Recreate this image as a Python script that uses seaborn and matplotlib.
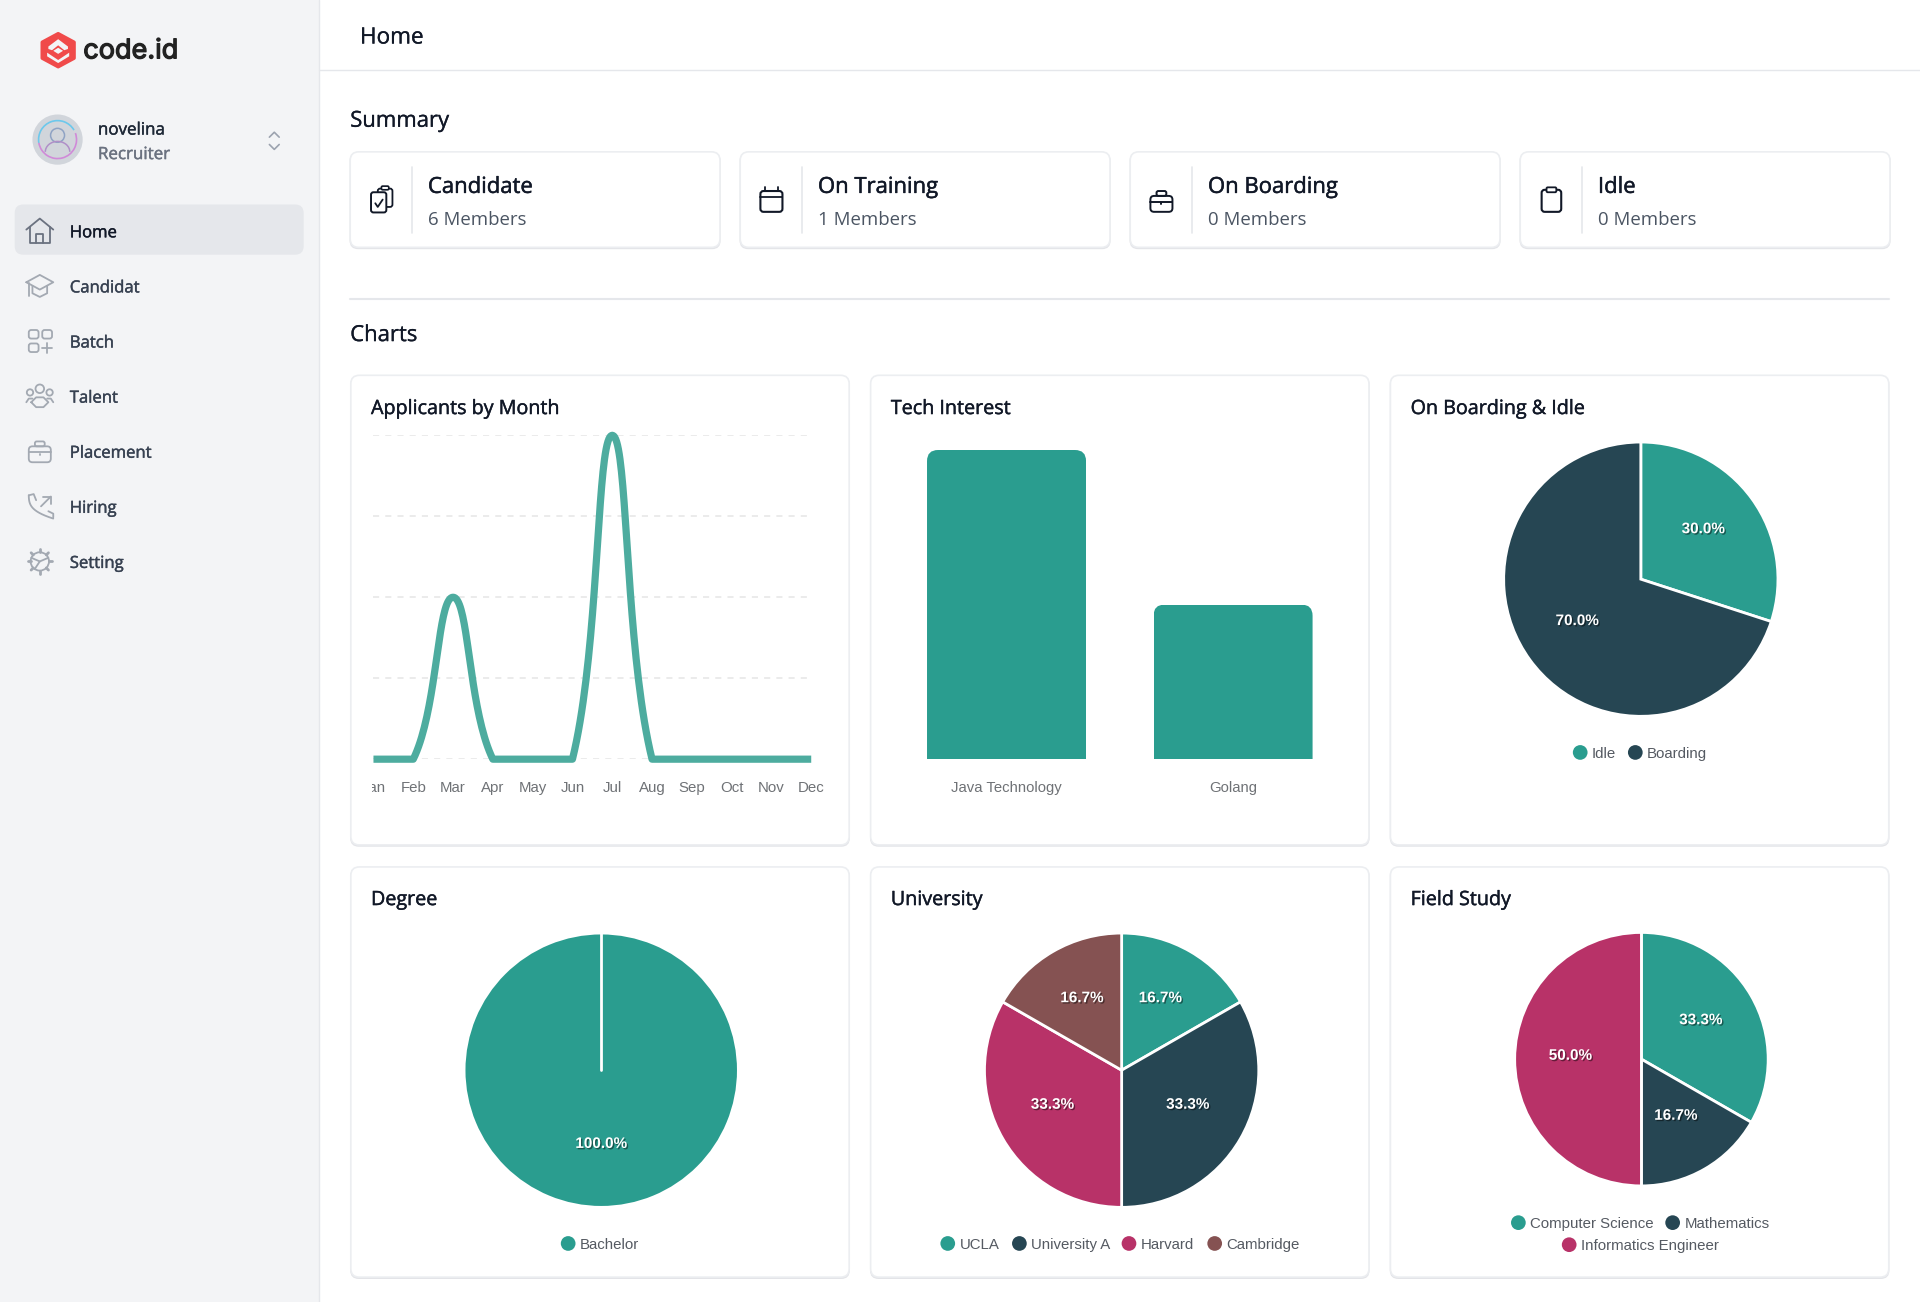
import numpy as np
import pandas as pd
import matplotlib
matplotlib.use('Agg')
import matplotlib.pyplot as plt
import matplotlib.patheffects as pe
from matplotlib.patches import Circle, FancyBboxPatch, Rectangle, Polygon, Arc
from matplotlib.transforms import IdentityTransform, TransformedBbox, Bbox
import seaborn as sns

# values
months = ['Jan', 'Feb', 'Mar', 'Apr', 'May', 'Jun', 'Jul', 'Aug', 'Sep', 'Oct', 'Nov', 'Dec']
applicants = [0, 0, 2, 0, 0, 0, 4, 0, 0, 0, 0, 0]

tech_names = ['Java Technology', 'Golang']
tech_counts = [4, 2]

boarding_names = ['Idle', 'Boarding']
boarding_values = [30, 70]
degree_names = ['Bachelor']
degree_values = [100]
university_names = ['UCLA', 'University A', 'Harvard', 'Cambridge']
university_values = [16.7, 33.3, 33.3, 16.7]
field_names = ['Computer Science', 'Mathematics', 'Informatics Engineer']
field_values = [33.3, 16.7, 50.0]

summary_titles = ['Candidate', 'On Training', 'On Boarding', 'Idle']
summary_members = ['6 Members', '1 Members', '0 Members', '0 Members']
nav_items = ['Home', 'Candidat', 'Batch', 'Talent', 'Placement', 'Hiring', 'Setting']

TEAL = '#2a9d8f'
DARK = '#264653'
PINK = '#b83268'
BROWN = '#855252'
PIE_COLORS = [TEAL, DARK, PINK, BROWN]
BORDER = '#e5e7eb'
ICON = '#a3a9b2'
SIDE = '#f3f4f6'

# layout numbers are in a 1568 wide screen, scaled up to 1920 px
W, H = 1568.0, 1302 / (1920 / 1568)
UI = ['Open Sans', 'DejaVu Sans']
CHART = ['Liberation Sans', 'DejaVu Sans']

sns.set_theme(style='white')
plt.rcParams['font.family'] = UI
fig = plt.figure(figsize=(19.2, 13.02), dpi=100, facecolor='white')
bg = fig.add_axes([0, 0, 1, 1])
bg.set_xlim(0, W)
bg.set_ylim(H, 0)
bg.axis('off')


def axes_at(left, top, right, bottom):
    return fig.add_axes([left / W, 1 - bottom / H, (right - left) / W, (bottom - top) / H])


def label(x, y, s, size, color='#111827', heavy=0.0, ha='left', family=UI):
    t = bg.text(x, y, s, fontsize=size, color=color, ha=ha, va='center_baseline', family=family)
    if heavy:
        # the dashboard font is a bit heavier than the installed regular
        t.set_path_effects([pe.withStroke(linewidth=heavy, foreground=color)])
    return t


def box(x0, y0, x1, y1, radius, face='white', edge='none', lw=1.0, ax=None):
    p = FancyBboxPatch((x0, y0), x1 - x0, y1 - y0, boxstyle=f'round,pad=0,rounding_size={radius}',
                       fc=face, ec=edge, lw=lw)
    (ax or bg).add_patch(p)
    return p


def card(x0, y0, x1, y1):
    box(x0 - 0.5, y0 + 0.5, x1 + 0.5, y1 + 1.5, 7, face='#e3e4e8')
    box(x0, y0, x1, y1, 7, edge='#eceef1', lw=1.2)


def stroke(xs, ys, color=ICON, lw=1.3):
    bg.plot(xs, ys, color=color, lw=lw, solid_capstyle='round', solid_joinstyle='round')


def ring(x, y, r, color=ICON, lw=1.3, face='none'):
    bg.add_patch(Circle((x, y), r, fc=face, ec=color, lw=lw))


def draw_house(x, y):
    stroke([x - 8, x - 8, x + 8, x + 8], [y - 3, y + 10, y + 10, y - 3], color='#6b7280')
    stroke([x - 3, x - 3, x + 3, x + 3], [y + 10, y + 3, y + 3, y + 10], color='#6b7280')
    stroke([x - 11, x, x + 11], [y - 1, y - 10, y - 1], color='#6b7280')


def draw_cap(x, y):
    stroke([x - 11, x, x + 11, x, x - 11], [y - 3, y - 9, y - 3, y + 3, y - 3])
    stroke([x - 6, x - 6, x, x + 6, x + 6], [y, y + 6, y + 9, y + 6, y])
    stroke([x - 9, x - 9], [y - 2, y + 8])


def draw_batch(x, y):
    box(x - 9, y - 9, x - 1, y - 2, 2, face='none', edge=ICON, lw=1.3)
    box(x + 2, y - 9, x + 10, y - 2, 2, face='none', edge=ICON, lw=1.3)
    box(x - 9, y + 2, x - 1, y + 9, 2, face='none', edge=ICON, lw=1.3)
    stroke([x + 6, x + 6], [y + 2, y + 10])
    stroke([x + 2, x + 10], [y + 6, y + 6])


def draw_talent(x, y):
    ring(x, y - 6, 3.5)
    ring(x - 8, y - 3, 2.6)
    ring(x + 8, y - 3, 2.6)
    stroke([x - 7, x - 3, x + 3, x + 7, x + 3, x - 3, x - 7], [y + 5, y + 1, y + 1, y + 5, y + 9, y + 9, y + 5])
    stroke([x - 11, x - 9, x - 6], [y + 5, y + 2, y + 2])
    stroke([x + 11, x + 9, x + 6], [y + 5, y + 2, y + 2])


def draw_case(x, y, color=ICON, lw=1.3):
    box(x - 9, y - 4, x + 9, y + 9, 3, face='none', edge=color, lw=lw)
    box(x - 4, y - 8, x + 4, y - 4, 1.5, face='none', edge=color, lw=lw)
    stroke([x - 9, x + 9], [y + 1, y + 1], color=color, lw=lw)
    stroke([x, x], [y + 2, y + 3], color=color, lw=lw)


def draw_phone(x, y):
    t = np.linspace(0, 1, 20)
    stroke(x - 9 + 4 * t ** 2 + 16 * t ** 4, y - 9 + 17 * t + 2 * t ** 3)
    stroke([x - 9, x - 5, x - 3], [y - 9, y - 10, y - 5])
    stroke([x + 11, x + 11, x + 7], [y + 9, y + 6, y + 4])
    stroke([x + 1, x + 9], [y, y - 8])
    stroke([x + 3, x + 9, x + 9], [y - 8, y - 8, y - 2])


def draw_gear(x, y):
    ring(x, y, 7.5)
    for a in np.arange(0, 360, 45):
        c, s = np.cos(np.radians(a)), np.sin(np.radians(a))
        stroke([x + 7.5 * c, x + 10 * c], [y + 7.5 * s, y + 10 * s], lw=2)
    stroke([x - 7, x, x + 7], [y - 3, y, y - 3])
    stroke([x, x - 4], [y, y + 6])


def draw_clipboards(x, y):
    box(x - 3, y - 9, x + 9, y + 6, 2, face='white', edge='#111827', lw=1.3)
    box(x - 0, y - 11, x + 6, y - 8, 1, face='white', edge='#111827', lw=1.2)
    box(x - 8.5, y - 6, x + 4, y + 10.5, 2, face='white', edge='#111827', lw=1.4)
    stroke([x - 5, x - 3, x + 1], [y + 3, y + 6, y], color='#111827', lw=1.3)


def draw_calendar(x, y):
    box(x - 9, y - 7, x + 9, y + 10, 2.5, face='none', edge='#111827', lw=1.5)
    stroke([x - 9, x + 9], [y - 2, y - 2], color='#111827', lw=1.3)
    stroke([x - 5, x - 5], [y - 10, y - 7], color='#111827', lw=1.3)
    stroke([x + 5, x + 5], [y - 10, y - 7], color='#111827', lw=1.3)


def draw_clipboard(x, y):
    box(x - 8, y - 8, x + 8, y + 10, 2.5, face='none', edge='#111827', lw=1.5)
    box(x - 4, y - 10, x + 4, y - 6, 1, face='white', edge='#111827', lw=1.3)


def draw_logo(x, y):
    red = '#f04a4a'
    bg.add_patch(Polygon([(x, y - 13.5), (x + 13, y - 6.5), (x + 13, y + 6.5), (x, y + 13.5), (x - 13, y + 6.5), (x - 13, y - 6.5)],
                         closed=True, fc=red, ec=red, lw=2.5, joinstyle='round'))
    # light cut-outs: band above, band below, diamond in the middle
    bg.add_patch(Polygon([(x - 8, y - 3), (x, y - 9), (x + 8, y - 3), (x + 8, y - 1), (x + 5, y), (x, y - 4), (x - 5, y), (x - 8, y - 1)],
                         closed=True, fc=SIDE, ec='none'))
    bg.add_patch(Polygon([(x, y - 2), (x + 4, y + 0.5), (x, y + 3), (x - 4, y + 0.5)], closed=True, fc=SIDE, ec='none'))
    bg.add_patch(Polygon([(x - 9, y + 2), (x, y + 8), (x + 9, y + 2), (x + 9, y + 5), (x, y + 10.5), (x - 9, y + 5)],
                         closed=True, fc=SIDE, ec='none'))


def smooth_curve(values, step, unit, tension=0.4):
    # bezier through the monthly values, control points capped at the axis floor
    px = np.arange(len(values)) * step
    py = np.asarray(values, dtype=float) * unit
    xs, ys = [], []
    for i in range(len(values) - 1):
        p0, p3 = np.array([px[i], py[i]]), np.array([px[i + 1], py[i + 1]])
        c1, c2 = p0.copy(), p3.copy()
        if i > 0:
            prev = np.array([px[i - 1], py[i - 1]])
            d0, d1 = np.hypot(*(p0 - prev)), np.hypot(*(p3 - p0))
            c1 = p0 + tension * d1 / (d0 + d1) * (p3 - prev)
        if i < len(values) - 2:
            nxt = np.array([px[i + 2], py[i + 2]])
            d0, d1 = np.hypot(*(p3 - p0)), np.hypot(*(nxt - p3))
            c2 = p3 - tension * d0 / (d0 + d1) * (nxt - p0)
        c1[1], c2[1] = max(c1[1], 0), max(c2[1], 0)
        for t in np.linspace(0, 1, 40):
            q = (1 - t) ** 3 * p0 + 3 * (1 - t) ** 2 * t * c1 + 3 * (1 - t) * t ** 2 * c2 + t ** 3 * p3
            xs.append(q[0] / step)
            ys.append(q[1] / unit)
    return xs, ys


def draw_pie(cx, cy, r, values, names, text_at, legend_rows):
    half = r * 1.04
    ax = axes_at(cx - half, cy - half, cx + half, cy + half)
    _, _, auto = ax.pie(values, colors=PIE_COLORS[:len(values)], startangle=90, counterclock=False,
                        autopct='%.1f%%', wedgeprops={'edgecolor': 'white', 'linewidth': 2.0},
                        textprops={'color': 'white', 'fontsize': 11, 'fontweight': 'bold', 'family': CHART})
    ax.set_xlim(-1.04, 1.04)
    ax.set_ylim(-1.04, 1.04)
    if len(values) == 1:
        # a lone slice still shows its seam
        ax.plot([0, 0], [0, 1], color='white', lw=2.0)
    for t, (tx, ty) in zip(auto, text_at):
        t.set_position(((tx - cx) / r, (cy - ty - 1.2) / r))
        t.set_path_effects([pe.withSimplePatchShadow(offset=(1, -1), shadow_rgbFace='black', alpha=0.45)])
    for name, color_i, dot_x, y in legend_rows:
        bg.add_patch(Circle((dot_x, y), 6, fc=PIE_COLORS[color_i], ec='none'))
        label(dot_x + 9.5, y, name, 10.8, color='#555a62', family=CHART)
    return ax


# sidebar
bg.add_patch(Rectangle((0, 0), 260.5, H, fc=SIDE, ec='none'))
stroke([260.5, 260.5], [0, H], color=BORDER, lw=1)
stroke([260.5, W], [57.5, 57.5], color=BORDER, lw=1)
draw_logo(47.5, 41)
label(68, 39.5, 'code.id', 19.5, color='#222222', heavy=0.9, family=['Inter', 'DejaVu Sans'])
bg.add_patch(Circle((47, 114), 20.5, fc='#d1d5db', ec='none'))
bg.add_patch(Arc((47, 114), 31, 31, theta1=170, theta2=330, ec='#6cc8ec', lw=1.2))
bg.add_patch(Arc((47, 114), 31, 31, theta1=340, theta2=170, ec='#d08ad8', lw=1.2))
ring(47, 110.5, 5.7, color='#8fa3c4', lw=1.1)
bg.add_patch(Arc((47, 124), 20, 17, theta1=180, theta2=360, ec='#b090c8', lw=1.1))
label(80, 105, 'novelina', 12.2, color='#1f2937', heavy=0.3)
label(80, 125, 'Recruiter', 12.2, color='#6b7280', heavy=0.3)
stroke([220, 224, 228], [112, 108, 112], color='#9ca3af', lw=1.2)
stroke([220, 224, 228], [118, 122, 118], color='#9ca3af', lw=1.2)

box(12, 167, 248, 208, 7, face='#e5e7eb')
nav_icons = [draw_house, draw_cap, draw_batch, draw_talent, draw_case, draw_phone, draw_gear]
for i, (name, draw) in enumerate(zip(nav_items, nav_icons)):
    y = 188.5 + i * 45
    draw(32.5, y)
    label(57, y + 0.4, name, 12, color='#111827' if i == 0 else '#374151', heavy=0.3)

# header and summary
label(294, 29, 'Home', 16.2, heavy=0.2)
label(286, 97, 'Summary', 15.9, heavy=0.2)
summary_icons = [draw_clipboards, draw_calendar, draw_case, draw_clipboard]
for i, x0 in enumerate([286, 604.5, 923, 1241.5]):
    card(x0, 124, x0 + 302, 202)
    stroke([x0 + 50.5, x0 + 50.5], [136, 190], color=BORDER, lw=1.2)
    if i == 2:
        draw_case(x0 + 25.5, 164, color='#111827', lw=1.4)
    else:
        summary_icons[i](x0 + 25.5, 163)
    label(x0 + 63.5, 151, summary_titles[i], 15.9, color='#111827', heavy=0.35)
    label(x0 + 63.5, 178, summary_members[i], 13.4, color='#4b5563')
stroke([286, 1543], [244, 244], color=BORDER, lw=1.5)
label(286, 272, 'Charts', 15.9, heavy=0.2)

# chart cards
titles = ['Applicants by Month', 'Tech Interest', 'On Boarding & Idle', 'Degree', 'University', 'Field Study']
columns = [(286.5, 693.5), (711, 1118), (1135.5, 1542.5)]
for i, title in enumerate(titles):
    x0, x1 = columns[i % 3]
    y0, y1 = (306.5, 690) if i < 3 else (708, 1043)
    card(x0, y0, x1, y1)
    label(x0 + 16.5, y0 + 25.5 if i < 3 else y0 + 25, title, 14.2, color='#111827', heavy=0.3)

# line chart
ax = axes_at(305, 355.5, 662.5, 620)
xs, ys = smooth_curve(applicants, 39.8, 66)
curve = pd.DataFrame({'month': xs, 'applicants': ys})
sns.lineplot(data=curve, x='month', y='applicants', color='#4dac9f', linewidth=5.2, sort=False,
             solid_capstyle='butt', ax=ax, clip_on=False, zorder=3)
ax.set_xlim(0, 11)
ax.set_ylim(0, 4)
ax.set_yticks(range(5))
ax.set_yticklabels([])
ax.set_xticks(range(12))
ax.set_xticklabels(months, fontsize=10.8, color='#6f7276', family=CHART)
ax.tick_params(axis='both', length=0)
ax.tick_params(axis='x', pad=15.5)
ax.set_xlabel('')
ax.set_ylabel('')
sns.despine(ax=ax, left=True, bottom=True)
ax.grid(axis='y', color='#e6e6e6', linestyle=(0, (4, 4)), linewidth=1.1)
ax.grid(axis='x', visible=False)
ax.patch.set_visible(False)
# the first month label is cut by the chart edge in the dashboard
jan_clip = TransformedBbox(Bbox([[303.5, 0], [W, H]]), bg.transData)
ax.get_xticklabels()[0].set_clip_box(jan_clip)
ax.get_xticklabels()[0].set_clip_on(True)

# bar chart
ax = axes_at(729.5, 367.5, 1099.5, 620)
sns.barplot(x=tech_names, y=tech_counts, color=TEAL, saturation=1, width=0.702, ax=ax)
ax.set_ylim(0, 4)
ax.set_xlim(-0.5, 1.5)
ax.set_yticks([])
ax.tick_params(axis='x', length=0, pad=15.5, labelsize=10.7, labelcolor='#6f7276')
for t in ax.get_xticklabels():
    t.set_family(CHART)
ax.set_xlabel('')
ax.set_ylabel('')
ax.patch.set_visible(False)
sns.despine(ax=ax, left=True, bottom=True)
for bar in list(ax.patches):
    e = bar.get_window_extent()
    # rounded top corners only, the box runs on below the axis and is cut there
    rounded = FancyBboxPatch((e.x0, e.y0 - 30), e.width, e.height + 30, boxstyle='round,pad=0,rounding_size=11',
                             fc=TEAL, ec='none', transform=IdentityTransform())
    ax.add_patch(rounded)
    rounded.set_clip_box(e)
    bar.set_visible(False)

# pies
draw_pie(1340, 473, 112, boarding_values, boarding_names, [(1391, 431), (1288, 506)],
         [('Idle', 0, 1290.5, 614.5), ('Boarding', 1, 1335.5, 614.5)])
draw_pie(491, 874, 112, degree_values, degree_names, [(491, 933)], [('Bachelor', 0, 464, 1015.5)])
draw_pie(916, 874, 112, university_values, university_names,
         [(947.5, 814), (970, 901), (859.5, 901), (883.5, 814)],
         [('UCLA', 0, 774, 1015.5), ('University A', 1, 832.5, 1015.5), ('Harvard', 2, 922, 1015.5),
          ('Cambridge', 3, 992, 1015.5)])
draw_pie(1340.5, 865, 103.5, field_values, field_names, [(1389, 832), (1368.5, 910), (1282.5, 861)],
         [('Computer Science', 0, 1240, 998.5), ('Mathematics', 1, 1366, 998.5),
          ('Informatics Engineer', 2, 1281.5, 1016.5)])

fig.savefig('out.png', dpi=100)
